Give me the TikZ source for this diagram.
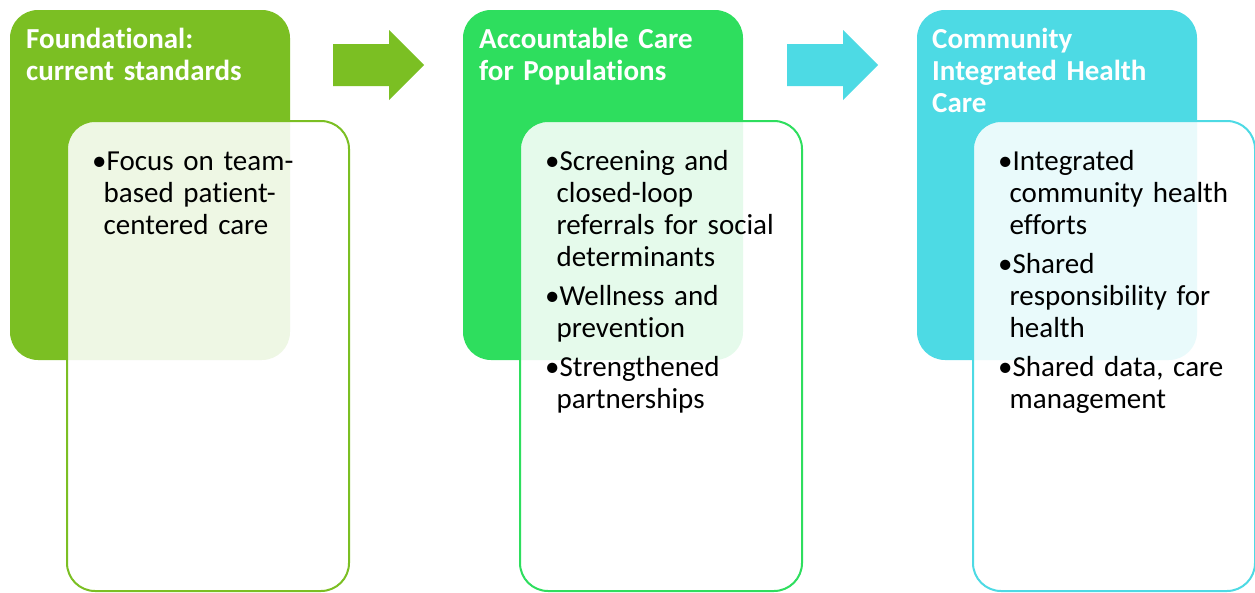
\documentclass[tikz,border=0pt]{standalone}
\usepackage{fontspec}
\setmainfont{Carlito}[Ligatures = NoCommon]
\usepackage{tikz}

\definecolor{stageone}{HTML}{7BBF23}
\definecolor{stagetwo}{HTML}{2EDE5E}
\definecolor{stagethree}{HTML}{4DDAE4}

\newcommand{\bul}{\hangindent=11.5pt\hangafter=1\noindent\makebox[14.5pt][l]{\textbullet}}

\tikzset{
  stagebox/.style = {shape = rectangle, rounded corners = 28pt, anchor = north west, minimum width = 280pt, minimum height = 350pt, inner sep = 0pt, outer sep = 0pt},
  listbox/.style = {shape = rectangle, rounded corners = 28pt, anchor = north west, minimum width = 282pt, minimum height = 470pt, fill = white, fill opacity = 0.88, line width = 2pt, inner sep = 0pt, outer sep = 0pt},
  stagetitle/.style = {anchor = base west, inner sep = 0pt, text width = 270pt, text = white, font = \bfseries\fontsize{29}{32}\selectfont},
  stagetext/.style = {anchor = base west, inner sep = 0pt, text width = 260pt, font = \fontsize{29}{32}\selectfont, execute at begin node = \setlength{\parskip}{7pt}}
}

\begin{document}
\begin{tikzpicture}[x = 1pt, y = -1pt]
\useasboundingbox (0,0) rectangle (1255,592);

% stage one
\node[stagebox, fill = stageone] (10) at (10,10) {};
\node[listbox, draw = stageone] (11) at (67,121) {};
\node[stagetitle] (12) at (26,48) {Foundational:\newline current standards};
\node[stagetext] (13) at (92,170) {\bul Focus on team-\newline based patient-\newline centered care\par};
\fill[stageone] (333,44) -- (389,44) -- (389,30) -- (424,65) -- (389,100) -- (389,86) -- (333,86) -- cycle;

% stage two
\node[stagebox, fill = stagetwo] (20) at (463,10) {};
\node[listbox, draw = stagetwo] (21) at (520,121) {};
\node[stagetitle] (22) at (479,48) {Accountable Care\newline for Populations};
\node[stagetext] (23) at (545,170) {\bul Screening and\newline closed-loop\newline referrals for social\newline determinants\par
  \bul Wellness and\newline prevention\par
  \bul Strengthened\newline partnerships\par};
\fill[stagethree] (787,44) -- (843,44) -- (843,30) -- (878,65) -- (843,100) -- (843,86) -- (787,86) -- cycle;

% stage three
\node[stagebox, fill = stagethree] (30) at (917,10) {};
\node[listbox, draw = stagethree] (31) at (973,121) {};
\node[stagetitle] (32) at (932,48) {Community\newline Integrated Health\newline Care};
\node[stagetext] (33) at (998,170) {\bul Integrated\newline community health\newline efforts\par
  \bul Shared\newline responsibility for\newline health\par
  \bul Shared data, care\newline management\par};
\end{tikzpicture}
\end{document}
